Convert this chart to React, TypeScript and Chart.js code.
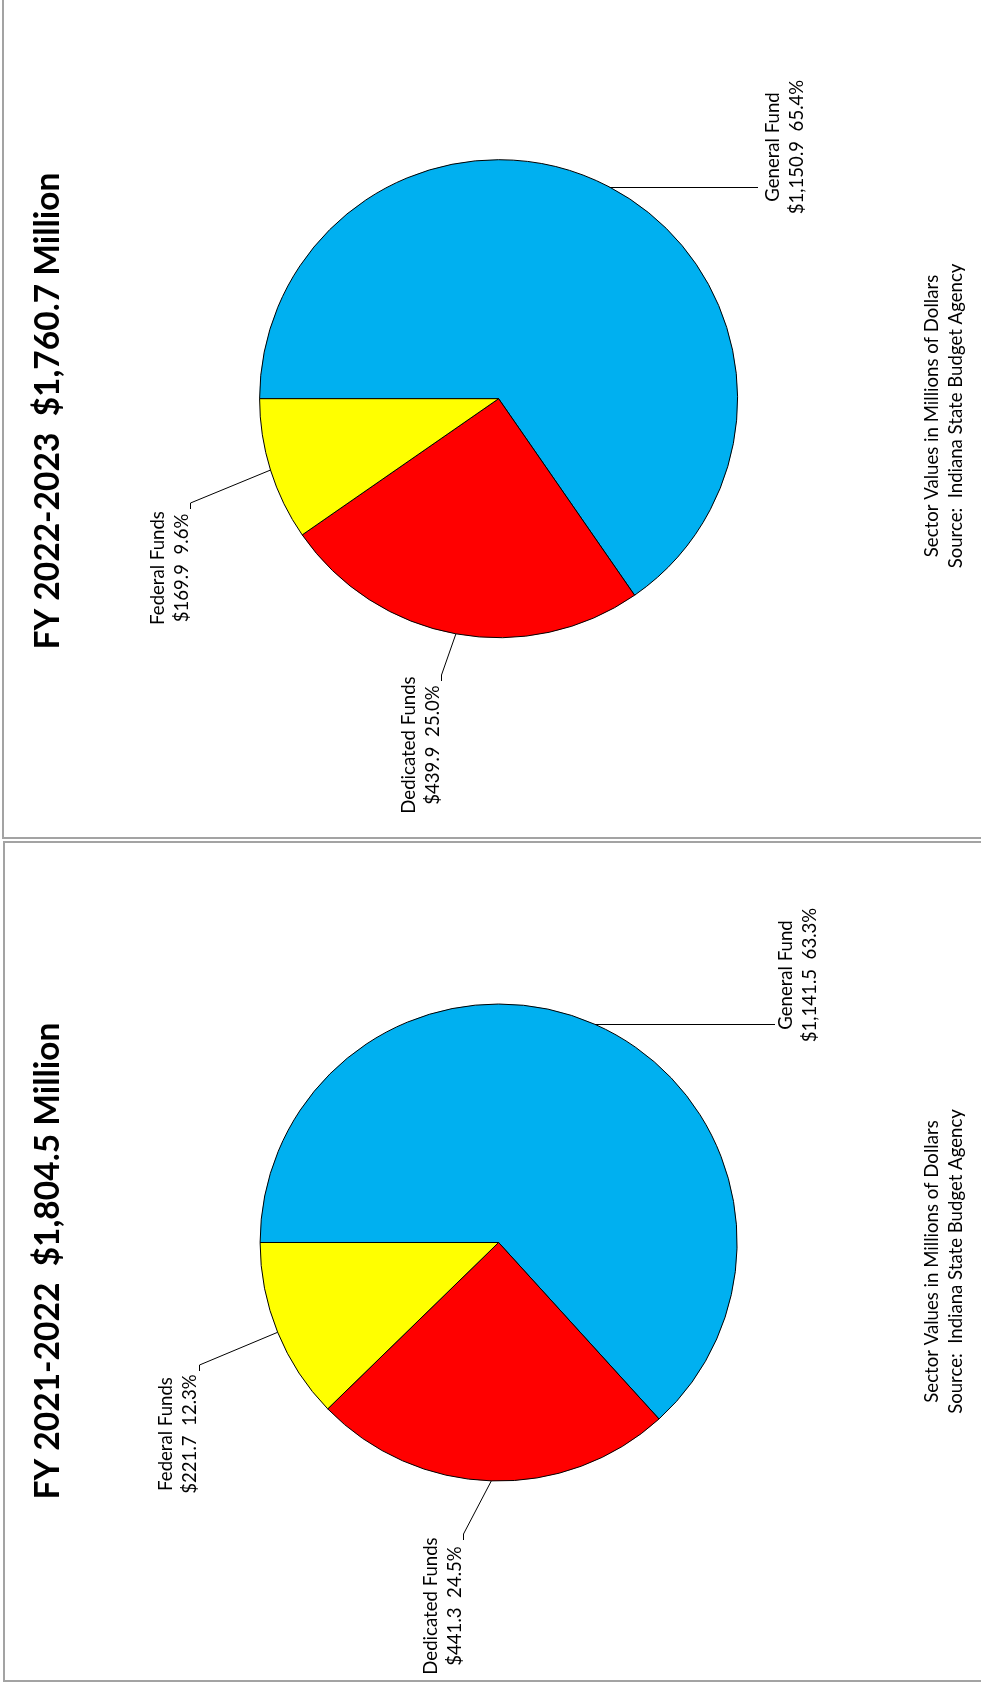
import React, { useEffect, useRef } from "react";
import { Chart, registerables } from "chart.js";

Chart.register(...registerables);

// ---------- data ----------
const categories = ["General Fund", "Dedicated Funds", "Federal Funds"];
const sliceColors = ["#00B0F0", "#FF0000", "#FFFF00"];

const fy2023Values = [1150.9, 439.9, 169.9];
const fy2023Percents = [65.4, 25.0, 9.6];
const fy2023Title = "FY 2022-2023  $1,760.7 Million";

const fy2022Values = [1141.5, 441.3, 221.7];
const fy2022Percents = [63.3, 24.5, 12.3];
const fy2022Title = "FY 2021-2022  $1,804.5 Million";

const footnoteLines = [
  "Sector Values in Millions of Dollars",
  "Source:  Indiana State Budget Agency",
];

// ---------- layout ----------
const PAGE_W = 981;
const FONT = "Lato, 'Open Sans', sans-serif";
const LINE_GAP = 24;

type LabelLayout = {
  baseX: number;
  centerY: number;
  endX?: number;
  elbow?: [number, number, number];
};

type PanelLayout = {
  canvasTop: number;
  canvasHeight: number;
  cx: number;
  cy: number;
  r: number;
  title: { x: number; y: number };
  note: { x: number; y: number };
  labels: LabelLayout[];
};

const topLayout: PanelLayout = {
  canvasTop: 0,
  canvasHeight: 839,
  cx: 498.6,
  cy: 398.7,
  r: 239,
  title: { x: 59, y: 411 },
  note: { x: 938, y: 416 },
  labels: [
    { baseX: 779, centerY: 147, endX: 758 },
    { baseX: 415, centerY: 745, elbow: [441, 675, 681] },
    { baseX: 164, centerY: 568, elbow: [190, 503, 509] },
  ],
};

const bottomLayout: PanelLayout = {
  canvasTop: 841,
  canvasHeight: 842,
  cx: 498.6,
  cy: 401.5,
  r: 238.5,
  title: { x: 59, y: 420 },
  note: { x: 938, y: 420.5 },
  labels: [
    { baseX: 792, centerY: 134, endX: 775 },
    { baseX: 437, centerY: 765, elbow: [463, 693, 699] },
    { baseX: 172, centerY: 593, elbow: [199, 524, 530] },
  ],
};

function fmtMoney(v: number): string {
  return "$" + v.toLocaleString("en-US", { minimumFractionDigits: 1, maximumFractionDigits: 1 });
}

function PiePanel(props: {
  title: string;
  values: number[];
  percents: number[];
  layout: PanelLayout;
}) {
  const { title, values, percents, layout } = props;
  const ref = useRef<HTMLCanvasElement>(null);

  useEffect(() => {
    const canvas = ref.current;
    if (!canvas) return;
    const W = PAGE_W;
    const H = layout.canvasHeight;
    const padding = {
      left: Math.max(0, 2 * layout.cx - W),
      right: Math.max(0, W - 2 * layout.cx),
      top: Math.max(0, 2 * layout.cy - H),
      bottom: Math.max(0, H - 2 * layout.cy),
    };

    const annotations = {
      id: "annotations",
      afterDraw(chart: any) {
        const ctx: CanvasRenderingContext2D = chart.ctx;
        const meta = chart.getDatasetMeta(0);
        ctx.save();

        // small text: Lato sized to Calibri-like cap height, squeezed to reference width
        const smallSize = 18.6;
        const smallFont = `${smallSize}px ${FONT}`;
        ctx.font = smallFont;
        const smallScale = Math.min(1, 283 / ctx.measureText(footnoteLines[0]).width);

        const titleFont = `bold 34px ${FONT}`;
        ctx.font = titleFont;
        const titleScale = 477 / ctx.measureText(title).width;

        const rotText = (text: string, x: number, y: number, font: string, sx: number) => {
          ctx.save();
          ctx.translate(x, y);
          ctx.rotate(-Math.PI / 2);
          ctx.scale(sx, 1);
          ctx.font = font;
          ctx.fillStyle = "#000";
          ctx.textAlign = "center";
          ctx.textBaseline = "alphabetic";
          ctx.fillText(text, 0, 0);
          ctx.restore();
        };

        // leader lines
        ctx.strokeStyle = "#000";
        ctx.lineWidth = 1;
        meta.data.forEach((arc: any, i: number) => {
          const p = arc.getProps(["x", "y", "startAngle", "endAngle", "outerRadius"], true);
          const mid = (p.startAngle + p.endAngle) / 2;
          const rx = p.x + p.outerRadius * Math.cos(mid);
          const ry = p.y + p.outerRadius * Math.sin(mid);
          const L = layout.labels[i];
          ctx.beginPath();
          if (L.elbow) {
            ctx.moveTo(rx, ry);
            ctx.lineTo(L.elbow[0] + 0.5, L.elbow[1]);
            ctx.lineTo(L.elbow[0] + 0.5, L.elbow[2]);
          } else {
            const yy = Math.round(ry) + 0.5;
            ctx.moveTo(rx, yy);
            ctx.lineTo(L.endX as number, yy);
          }
          ctx.stroke();
        });

        // slice labels
        categories.forEach((cat, i) => {
          const L = layout.labels[i];
          rotText(cat, L.baseX, L.centerY, smallFont, smallScale);
          rotText(
            `${fmtMoney(values[i])}  ${percents[i].toFixed(1)}%`,
            L.baseX + LINE_GAP,
            L.centerY,
            smallFont,
            smallScale
          );
        });

        // title
        rotText(title, layout.title.x, layout.title.y, titleFont, titleScale);

        // footnote
        footnoteLines.forEach((line, k) => {
          rotText(line, layout.note.x + k * LINE_GAP, layout.note.y, smallFont, smallScale);
        });

        ctx.restore();
      },
    };

    const chart = new Chart(canvas, {
      type: "pie",
      data: {
        labels: categories,
        datasets: [
          {
            data: values,
            backgroundColor: sliceColors,
            borderColor: "#000000",
            borderWidth: 1,
            radius: layout.r,
          } as any,
        ],
      },
      options: {
        animation: false,
        responsive: false,
        maintainAspectRatio: false,
        devicePixelRatio: 1,
        rotation: 270,
        events: [],
        layout: { padding },
        plugins: {
          legend: { display: false },
          tooltip: { enabled: false },
          title: { display: false },
        },
      } as any,
      plugins: [annotations],
    });

    return () => chart.destroy();
  }, [title, values, percents, layout]);

  return (
    <canvas
      ref={ref}
      width={PAGE_W}
      height={layout.canvasHeight}
      style={{
        position: "absolute",
        left: 0,
        top: layout.canvasTop,
        width: PAGE_W,
        height: layout.canvasHeight,
      }}
    />
  );
}

export default function App() {
  const border = "2px solid #a3a3a3";
  return (
    <div
      style={{
        position: "absolute",
        left: 0,
        top: 0,
        width: PAGE_W,
        height: 1683,
        overflow: "hidden",
        background: "#ffffff",
      }}
    >
      <div
        style={{
          position: "absolute",
          left: 2,
          top: -2,
          width: 990,
          height: 841,
          border,
          boxSizing: "border-box",
        }}
      />
      <div
        style={{
          position: "absolute",
          left: 3,
          top: 841,
          width: 990,
          height: 841,
          border,
          boxSizing: "border-box",
        }}
      />
      <PiePanel title={fy2023Title} values={fy2023Values} percents={fy2023Percents} layout={topLayout} />
      <PiePanel title={fy2022Title} values={fy2022Values} percents={fy2022Percents} layout={bottomLayout} />
    </div>
  );
}
